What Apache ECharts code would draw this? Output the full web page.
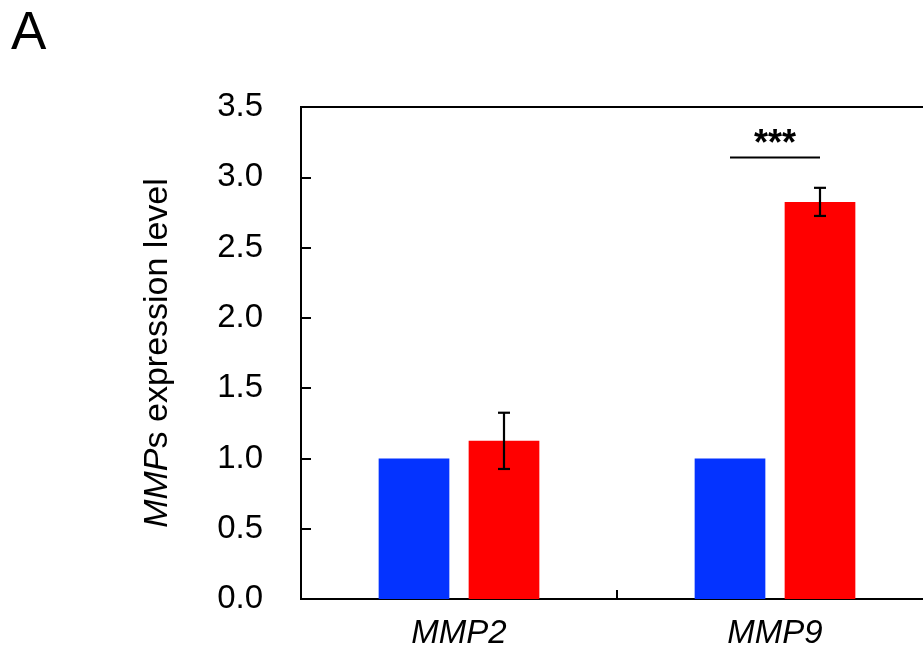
<!DOCTYPE html>
<html>
<head>
<meta charset="utf-8">
<script src="https://cdn.jsdelivr.net/npm/echarts@6/dist/echarts.min.js"></script>
<style>html,body{margin:0;padding:0;background:#fff;overflow:hidden}#c{width:933px;height:651px}</style>
</head>
<body>
<div id="c"></div>
<script>
// ---- data ----
const categories = ['MMP2', 'MMP9'];
const controlValues = [1.0, 1.0];
const treatedValues = [1.125, 2.825];
const treatedErrors = [0.2, 0.1];
const yTicks = ['0.0','0.5','1.0','1.5','2.0','2.5','3.0','3.5'];
const sigCategory = [1];
const sigLevel = [3.14];
const sigLabel = ['***'];

const FONT = '"Liberation Sans", Arial, sans-serif';
const BAR_W = 70.7, BAR_GAP = 19.3;
const chart = echarts.init(document.getElementById('c'));

const errData = categories.map((c, i) => [i, treatedValues[i], treatedErrors[i]]);
const sigData = sigCategory.map((c, i) => [c, sigLevel[i], sigLabel[i]]);

chart.setOption({
  animation: false,
  title: {
    text: 'A', left: 6, top: 3,
    textStyle: { fontFamily: FONT, fontSize: 53, fontWeight: 'normal', color: '#000' }
  },
  grid: {
    left: 301, top: 107, right: 0, height: 492,
    show: true, borderColor: '#000', borderWidth: 2, backgroundColor: 'transparent'
  },
  xAxis: {
    type: 'category', data: categories,
    axisLine: { lineStyle: { color: '#000', width: 2 } },
    axisTick: { show: true, inside: true, length: 9, lineStyle: { color: '#000', width: 2 } },
    axisLabel: { fontFamily: FONT, fontSize: 33, fontStyle: 'italic', color: '#000', margin: 18 }
  },
  yAxis: {
    type: 'value', min: 0, max: 3.5, interval: 0.5,
    name: '{i|MMP}{n|s expression level}',
    nameLocation: 'middle', nameRotate: 90, nameGap: 126,
    nameTextStyle: {
      rich: {
        i: { fontFamily: FONT, fontSize: 34, fontStyle: 'italic', color: '#000' },
        n: { fontFamily: FONT, fontSize: 34, color: '#000' }
      }
    },
    splitLine: { show: false },
    axisLine: { show: true, lineStyle: { color: '#000', width: 2 } },
    axisTick: { show: true, inside: true, length: 10, lineStyle: { color: '#000', width: 2 } },
    axisLabel: {
      fontFamily: FONT, fontSize: 33, color: '#000', margin: 38,
      formatter: (v) => yTicks[Math.round(v / 0.5)]
    }
  },
  series: [
    {
      type: 'bar', data: controlValues, barWidth: BAR_W, barGap: (BAR_GAP / BAR_W * 100) + '%',
      itemStyle: { color: '#0433ff' }
    },
    {
      type: 'bar', data: treatedValues, barWidth: BAR_W,
      itemStyle: { color: '#ff0000' }
    },
    {
      type: 'custom', data: errData, z: 10,
      renderItem: function (params, api) {
        const i = api.value(0), v = api.value(1), e = api.value(2);
        const off = (BAR_W + BAR_GAP) / 2;
        const top = api.coord([i, v + e]);
        const bot = api.coord([i, v - e]);
        const x = top[0] + off, cap = 6;
        const st = { stroke: '#000', lineWidth: 2.2 };
        return { type: 'group', children: [
          { type: 'line', shape: { x1: x, y1: top[1], x2: x, y2: bot[1] }, style: st },
          { type: 'line', shape: { x1: x - cap, y1: top[1], x2: x + cap, y2: top[1] }, style: st },
          { type: 'line', shape: { x1: x - cap, y1: bot[1], x2: x + cap, y2: bot[1] }, style: st }
        ]};
      }
    },
    {
      type: 'custom', data: sigData, z: 10,
      renderItem: function (params, api) {
        const p = api.coord([api.value(0), api.value(1)]);
        const off = (BAR_W + BAR_GAP) / 2;
        return { type: 'group', children: [
          { type: 'line', shape: { x1: p[0] - off, y1: p[1], x2: p[0] + off, y2: p[1] },
            style: { stroke: '#000', lineWidth: 2 } },
          { type: 'text', x: p[0], y: p[1] + 5,
            style: { text: sigLabel[params.dataIndex], fontFamily: FONT, fontSize: 36,
                     fontWeight: 'bold', fill: '#000', align: 'center', verticalAlign: 'bottom' } }
        ]};
      }
    }
  ]
});
</script>
</body>
</html>
